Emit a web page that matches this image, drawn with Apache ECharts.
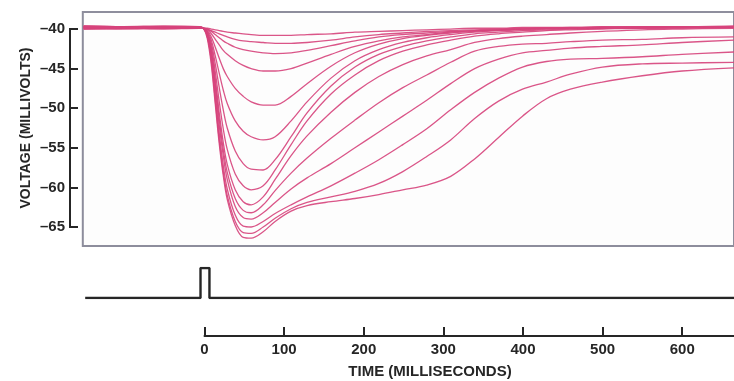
<!DOCTYPE html>
<html>
<head>
<meta charset="utf-8">
<script src="https://cdn.jsdelivr.net/npm/echarts@6/dist/echarts.min.js"></script>
<style>html,body{margin:0;padding:0;background:#fff;}#c{width:734px;height:381px;}</style>
</head>
<body>
<div id="c"></div>
<script>
// Time samples (ms)
const time = [-150,-100,-50,-5,0,5,10,15,20,25,30,40,50,60,75,90,110,130,160,190,220,250,280,310,340,370,400,430,460,500,550,600,665];
// Voltage traces (mV), deepest to shallowest
const traceA = [-39.6,-39.7,-39.6,-39.7,-39.9,-41.2,-44.5,-49.5,-54.5,-58.5,-61.5,-64.8,-66.3,-66.4,-65.6,-64.3,-63.0,-62.3,-61.8,-61.4,-60.9,-60.3,-59.7,-58.6,-56.4,-53.7,-51.0,-48.8,-47.6,-46.7,-45.9,-45.3,-44.9];
const traceB = [-39.9,-39.8,-39.9,-39.8,-39.9,-41.0,-44.0,-49.0,-54.0,-58.0,-61.0,-64.3,-65.7,-65.8,-65.0,-63.9,-62.7,-61.9,-61.2,-60.5,-59.5,-58.0,-56.1,-54.0,-51.3,-49.1,-47.6,-46.7,-45.7,-44.8,-44.4,-44.3,-44.2];
const traceC = [-39.7,-39.8,-39.7,-39.8,-39.9,-40.9,-43.6,-48.3,-53.2,-57.2,-60.2,-63.5,-64.9,-65.0,-64.3,-63.3,-62.2,-61.2,-59.8,-58.2,-56.5,-54.6,-52.6,-50.2,-48.0,-46.2,-44.8,-44.1,-43.8,-43.7,-43.5,-43.2,-42.9];
const traceD = [-40.0,-39.9,-40.0,-39.9,-39.9,-40.8,-43.2,-47.5,-52.2,-56.0,-59.0,-62.4,-63.8,-64.0,-63.2,-61.9,-60.2,-58.8,-57.0,-55.0,-53.0,-51.0,-49.0,-46.9,-45.0,-43.8,-43.0,-42.7,-42.4,-42.2,-42.0,-41.7,-41.4];
const traceE = [-39.8,-39.7,-39.8,-39.8,-39.9,-40.7,-42.9,-46.9,-51.4,-55.2,-58.1,-61.4,-62.9,-63.2,-62.2,-60.4,-58.2,-56.3,-53.8,-51.5,-49.3,-47.4,-45.8,-44.2,-42.8,-42.2,-41.9,-41.8,-41.6,-41.4,-41.3,-41.1,-41.0];
const traceF = [-39.7,-39.8,-39.8,-39.7,-39.9,-40.6,-42.6,-46.3,-50.6,-54.3,-57.1,-60.3,-61.8,-62.2,-61.2,-59.0,-56.0,-53.5,-50.5,-48.0,-46.0,-44.5,-43.4,-42.6,-41.7,-41.2,-40.9,-40.7,-40.5,-40.3,-40.1,-40.0,-39.9];
const traceG = [-39.9,-40.0,-39.9,-39.9,-39.9,-40.5,-42.2,-45.4,-49.2,-52.6,-55.2,-58.3,-59.8,-60.3,-59.8,-57.8,-54.6,-51.6,-48.2,-45.8,-44.0,-42.8,-42.0,-41.4,-40.9,-40.6,-40.4,-40.2,-40.1,-40.0,-39.9,-39.9,-39.8];
const traceH = [-39.8,-39.8,-39.7,-39.8,-39.9,-40.4,-41.8,-44.4,-47.4,-50.2,-52.5,-55.4,-57.0,-57.7,-57.8,-56.5,-53.6,-50.6,-47.2,-44.8,-43.2,-42.2,-41.5,-41.0,-40.6,-40.4,-40.2,-40.1,-40.0,-39.9,-39.9,-39.8,-39.8];
const traceI = [-39.6,-39.7,-39.7,-39.7,-39.9,-40.3,-41.4,-43.4,-45.6,-47.7,-49.4,-51.6,-52.9,-53.6,-54.0,-53.6,-51.6,-49.2,-46.2,-44.0,-42.6,-41.7,-41.1,-40.7,-40.4,-40.2,-40.1,-40.0,-39.9,-39.9,-39.8,-39.8,-39.8];
const traceJ = [-40.0,-39.9,-39.9,-39.9,-39.9,-40.2,-41.0,-42.3,-43.7,-45.0,-46.0,-47.5,-48.5,-49.2,-49.6,-49.6,-48.5,-46.9,-44.7,-43.0,-41.9,-41.2,-40.8,-40.5,-40.3,-40.1,-40.0,-39.9,-39.9,-39.8,-39.8,-39.8,-39.8];
const traceK = [-39.8,-39.9,-39.8,-39.8,-39.9,-40.1,-40.6,-41.3,-42.0,-42.7,-43.2,-44.0,-44.6,-45.0,-45.3,-45.3,-45.0,-44.3,-43.2,-42.2,-41.5,-41.0,-40.7,-40.4,-40.2,-40.1,-40.0,-39.9,-39.9,-39.8,-39.8,-39.8,-39.8];
const traceL = [-39.7,-39.7,-39.8,-39.8,-39.9,-40.0,-40.3,-40.7,-41.1,-41.5,-41.8,-42.3,-42.6,-42.8,-43.0,-43.1,-43.0,-42.7,-42.1,-41.5,-41.0,-40.7,-40.5,-40.3,-40.2,-40.1,-40.0,-39.9,-39.9,-39.8,-39.8,-39.8,-39.7];
const traceM = [-39.9,-39.8,-39.9,-39.9,-39.9,-40.0,-40.2,-40.4,-40.6,-40.8,-41.0,-41.3,-41.5,-41.6,-41.7,-41.8,-41.8,-41.7,-41.4,-41.0,-40.7,-40.5,-40.3,-40.2,-40.1,-40.0,-39.9,-39.9,-39.8,-39.8,-39.7,-39.7,-39.7];
const traceN = [-39.8,-39.8,-39.8,-39.8,-39.9,-39.9,-40.0,-40.1,-40.2,-40.3,-40.4,-40.5,-40.6,-40.7,-40.8,-40.8,-40.8,-40.7,-40.6,-40.4,-40.3,-40.2,-40.1,-40.0,-39.9,-39.9,-39.8,-39.8,-39.8,-39.7,-39.7,-39.7,-39.6];
const traces = [traceA,traceB,traceC,traceD,traceE,traceF,traceG,traceH,traceI,traceJ,traceK,traceL,traceM,traceN];

// Stimulus pulse (ms, relative level)
const stimTime = [-148,-3.5,-3.5,7.7,7.7,665];
const stimLevel = [0,0,1,1,0,0];

// Axis ticks
const voltTicks = [-65,-40,5];  // min, max, step
const timeTicks = [0,665,100];  // min, max, step

const chart = echarts.init(document.getElementById('c'), null, {renderer:'canvas'});
const ink = '#262626';
const pink = '#d6427b';

const series = traces.map(tr => ({
  type:'line', xAxisIndex:0, yAxisIndex:0, showSymbol:false, smooth:0.35,
  lineStyle:{color:pink, width:1.3, opacity:0.9},
  data: time.map((t,i)=>[t,tr[i]]), silent:true, animation:false
}));
series.push({
  type:'line', xAxisIndex:2, yAxisIndex:2, showSymbol:false,
  lineStyle:{color:ink, width:2.4}, data: stimTime.map((t,i)=>[t,stimLevel[i]]), animation:false
});
series.push({type:'line', xAxisIndex:1, yAxisIndex:1, showSymbol:false, clip:false, silent:true,
  lineStyle:{color:ink, width:2}, data:[[0,voltTicks[0]],[0,voltTicks[1]]], animation:false});
series.push({type:'line', xAxisIndex:3, yAxisIndex:3, showSymbol:false, clip:false, silent:true,
  lineStyle:{color:ink, width:2}, data:[[timeTicks[0],0],[timeTicks[1],0]], animation:false});

chart.setOption({
  animation:false,
  backgroundColor:'#ffffff',
  grid:[
    {left:82.8, top:12, width:657.7, height:234, show:true, borderColor:'#8d8d9c', borderWidth:2, backgroundColor:'#fdfdfd'},
    {left:70, top:29, width:10, height:198},
    {left:82.8, top:268, width:657.7, height:30},
    {left:204.5, top:300, width:536, height:36}
  ],
  xAxis:[
    {gridIndex:0, type:'value', min:-151, max:665, show:false},
    {gridIndex:1, type:'value', min:0, max:1, show:false},
    {gridIndex:2, type:'value', min:-151, max:665, show:false},
    {gridIndex:3, type:'value', min:timeTicks[0], max:timeTicks[1], interval:timeTicks[2], position:'bottom',
      axisLine:{show:true, onZero:false, lineStyle:{color:ink, width:2}},
      axisTick:{show:true, inside:true, length:9, lineStyle:{color:ink, width:2}},
      axisLabel:{show:true, showMaxLabel:false, color:ink, fontSize:15, fontWeight:'bold', fontFamily:'Liberation Sans', margin:6},
      splitLine:{show:false}}
  ],
  yAxis:[
    {gridIndex:0, type:'value', min:-67.4, max:-37.85, show:false},
    {gridIndex:1, type:'value', min:voltTicks[0], max:voltTicks[1], interval:voltTicks[2], position:'left',
      axisLine:{show:true, onZero:false, lineStyle:{color:ink, width:2}},
      axisTick:{show:true, inside:true, length:8, lineStyle:{color:ink, width:2}},
      axisLabel:{color:ink, fontSize:15, fontWeight:'bold', fontFamily:'Liberation Sans', margin:5,
        formatter: v => '\u2013' + Math.abs(v)},
      splitLine:{show:false},
      name:'VOLTAGE (MILLIVOLTS)', nameLocation:'middle', nameRotate:90, nameGap:37,
      nameTextStyle:{color:ink, fontSize:14, fontWeight:'bold', fontFamily:'Liberation Sans'}},
    {gridIndex:2, type:'value', min:0, max:1, show:false},
    {gridIndex:3, type:'value', min:0, max:1, show:false}
  ],
  series: series
});

// Spine of the voltage bracket, located through the bracket axis' own scale
const pTop = chart.convertToPixel({xAxisIndex:1, yAxisIndex:1}, [0, voltTicks[1]]);
const pBot = chart.convertToPixel({xAxisIndex:1, yAxisIndex:1}, [0, voltTicks[0]]);
chart.setOption({
  graphic:[
    {type:'line', z:100, silent:true,
      shape:{x1:pTop[0], y1:pTop[1]-1, x2:pBot[0], y2:pBot[1]+1},
      style:{stroke:ink, lineWidth:2}},
    {type:'text', x:430, y:372, silent:true,
      style:{text:'TIME (MILLISECONDS)', align:'center', verticalAlign:'middle', fill:ink,
        fontSize:15, fontWeight:'bold', fontFamily:'Liberation Sans'}}
  ]
});
</script>
</body>
</html>
